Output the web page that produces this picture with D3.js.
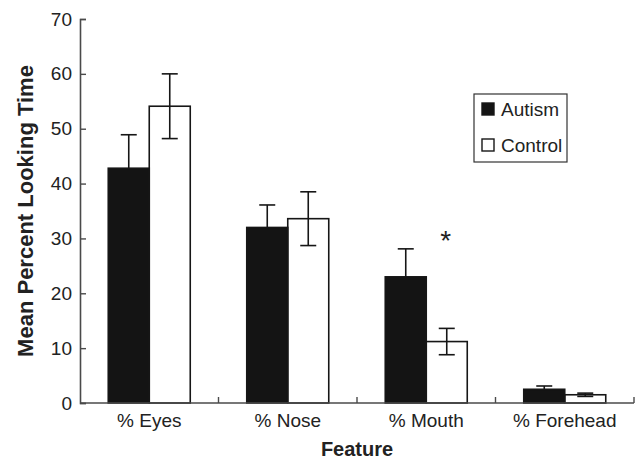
<!DOCTYPE html>
<html>
<head>
<meta charset="utf-8">
<script src="https://cdn.jsdelivr.net/npm/d3@7"></script>
<style>
  body { margin: 0; background: #fff; }
  svg { font-family: "Liberation Sans", Arial, sans-serif; }
</style>
</head>
<body>
<svg width="636" height="460"></svg>
<script>
// Data
const features = ['% Eyes', '% Nose', '% Mouth', '% Forehead'];
const groups = ['Autism', 'Control'];
const autismMean = [42.8, 32.0, 23.0, 2.5];
const autismErr = [6.1, 4.1, 5.1, 0.6];
const controlMean = [54.1, 33.6, 11.2, 1.5];
const controlErr = [5.9, 4.9, 2.4, 0.3];
const yTicks = [0, 10, 20, 30, 40, 50, 60, 70];
const significant = ['% Mouth']; // asterisk above the control bar

const svg = d3.select('svg');
const margin = { top: 19, right: 2, bottom: 57, left: 80 };
const width = +svg.attr('width') - margin.left - margin.right;
const height = +svg.attr('height') - margin.top - margin.bottom;
const axisColor = '#4a4a4a';

const g = svg.append('g')
  .attr('transform', `translate(${margin.left},${margin.top})`);

// Scales
const x = d3.scaleBand()
  .domain(features)
  .range([0, width]);

const xInner = d3.scaleBand()
  .domain(groups)
  .range([0, 82])
  .paddingInner(0);

const y = d3.scaleLinear()
  .domain([0, 70])
  .range([height, 0]);

// rows for the bars
const rows = [];
features.forEach((f, i) => {
  rows.push({ feature: f, group: 'Autism', mean: autismMean[i], err: autismErr[i] });
  rows.push({ feature: f, group: 'Control', mean: controlMean[i], err: controlErr[i] });
});
const offset = (x.bandwidth() - 82) / 2;
const barX = d => x(d.feature) + offset + xInner(d.group);

// error bars (drawn first so bar fill covers lower half on black bars)
const err = g.append('g').selectAll('g')
  .data(rows)
  .enter().append('g')
  .attr('stroke', '#161616')
  .attr('stroke-width', 1.6);

err.append('line')
  .attr('x1', d => barX(d) + xInner.bandwidth() / 2)
  .attr('x2', d => barX(d) + xInner.bandwidth() / 2)
  .attr('y1', d => y(d.mean + d.err))
  .attr('y2', d => y(d.mean - d.err));

err.append('line')
  .attr('x1', d => barX(d) + xInner.bandwidth() / 2 - 8)
  .attr('x2', d => barX(d) + xInner.bandwidth() / 2 + 8)
  .attr('y1', d => y(d.mean + d.err))
  .attr('y2', d => y(d.mean + d.err));

err.filter(d => d.group === 'Control').append('line')
  .attr('x1', d => barX(d) + xInner.bandwidth() / 2 - 8)
  .attr('x2', d => barX(d) + xInner.bandwidth() / 2 + 8)
  .attr('y1', d => y(d.mean - d.err))
  .attr('y2', d => y(d.mean - d.err));

// Bars
g.append('g')
  .selectAll('rect')
  .data(rows)
  .enter().append('rect')
  .attr('x', d => barX(d))
  .attr('y', d => y(d.mean))
  .attr('width', xInner.bandwidth())
  .attr('height', d => height - y(d.mean))
  .attr('fill', d => d.group === 'Autism' ? '#141414' : 'none')
  .attr('stroke', '#161616')
  .attr('stroke-width', 1.6);

// Asterisk for significance
g.append('g')
  .selectAll('text')
  .data(rows.filter(d => d.group === 'Control' && significant.includes(d.feature)))
  .enter().append('text')
  .attr('x', d => barX(d) + xInner.bandwidth() / 2 - 1)
  .attr('y', d => y(d.mean + d.err) - 78)
  .attr('text-anchor', 'middle')
  .style('font-size', '28px')
  .attr('fill', '#222')
  .text('*');

// Eje Y (ticks hacia dentro)
const yAxis = g.append('g')
  .call(d3.axisRight(y).tickValues(yTicks).tickSize(6).tickFormat(d3.format('d')));
yAxis.select('.domain').attr('stroke', axisColor).attr('stroke-width', 1.6);
yAxis.selectAll('.tick line').attr('stroke', axisColor).attr('stroke-width', 1.4);
yAxis.selectAll('.tick text')
  .attr('x', -8)
  .attr('text-anchor', 'end')
  .attr('fill', '#222')
  .style('font-size', '19px');

// Eje X: separators at band edges, labels at band centres
const xAxis = g.append('g')
  .attr('transform', `translate(0,${height})`);
xAxis.append('line')
  .attr('x1', 0).attr('x2', width)
  .attr('stroke', axisColor).attr('stroke-width', 1.6);
xAxis.selectAll('.sep')
  .data(features)
  .enter().append('line')
  .attr('class', 'sep')
  .attr('x1', d => x(d) + x.bandwidth())
  .attr('x2', d => x(d) + x.bandwidth())
  .attr('y1', 0).attr('y2', -6)
  .attr('stroke', axisColor).attr('stroke-width', 1.4);
xAxis.selectAll('.lbl')
  .data(features)
  .enter().append('text')
  .attr('class', 'lbl')
  .attr('x', d => x(d) + offset + 41)
  .attr('y', 22)
  .attr('dy', '0.1em')
  .attr('text-anchor', 'middle')
  .attr('fill', '#222')
  .style('font-size', '19px')
  .text(d => d);

// Axis titles
svg.append('text')
  .attr('x', margin.left + width / 2)
  .attr('y', 456)
  .attr('text-anchor', 'middle')
  .style('font-size', '20px')
  .style('font-weight', 'bold')
  .attr('fill', '#222')
  .text('Feature');

svg.append('text')
  .attr('transform', 'translate(33,211) rotate(-90)')
  .attr('text-anchor', 'middle')
  .style('font-size', '22px')
  .style('font-weight', 'bold')
  .attr('fill', '#222')
  .text('Mean Percent Looking Time');

// Legend
const legend = svg.append('g').attr('transform', 'translate(474,94)');
legend.append('rect')
  .attr('width', 93).attr('height', 68)
  .attr('fill', '#fff').attr('stroke', '#333').attr('stroke-width', 1.2);
const item = legend.selectAll('.item')
  .data(groups)
  .enter().append('g')
  .attr('class', 'item')
  .attr('transform', (d, i) => `translate(8,${9 + i * 36})`);
item.append('rect')
  .attr('width', 12).attr('height', 12)
  .attr('fill', d => d === 'Autism' ? '#141414' : '#fff')
  .attr('stroke', '#161616').attr('stroke-width', 1.4);
item.append('text')
  .attr('x', 19).attr('y', 13)
  .attr('fill', '#222')
  .style('font-size', '19px')
  .text(d => d);
</script>
</body>
</html>
